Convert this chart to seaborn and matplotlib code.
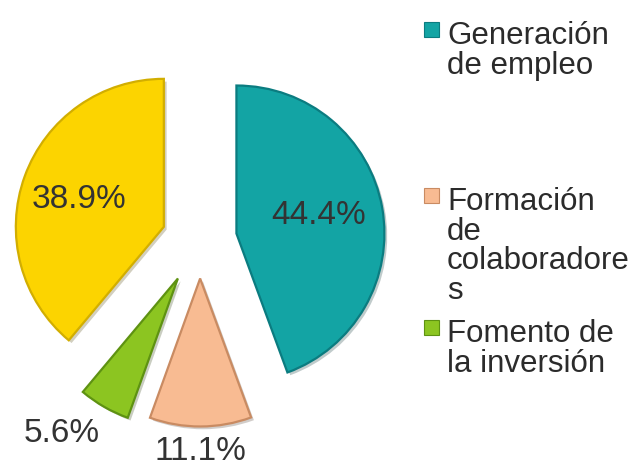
import matplotlib
matplotlib.use("Agg")
import matplotlib.pyplot as plt
import matplotlib.patheffects as pe
from matplotlib.patches import Rectangle
import seaborn as sns
import numpy as np

# data
categories = ["Generación de empleo", "Formación de colaboradores",
              "Fomento de la inversión", "Otros"]
legend_labels = ["Generación\nde empleo", "Formación\nde\ncolaboradore\ns",
                 "Fomento de\nla inversión"]
shares = [44.4, 11.1, 5.6, 38.9]

colors = ["#13a4a4", "#f8bb92", "#8cc521", "#fcd400"]
edges = ["#0b7c80", "#c98b62", "#5e9212", "#d2ae00"]
explode = [0.25, 0.26, 0.30, 0.26]
label_dist = [0.57, 1.17, 1.31, 0.60]
label_turn = [2, 0, -7, 2]

sns.set_theme(style="white")
plt.rcParams["font.family"] = ["Liberation Sans", "DejaVu Sans"]

fig = plt.figure(figsize=(6.43, 4.71), dpi=100)
ax = fig.add_axes([0, 0, 400 / 643, 1])

wedges, texts, autotexts = ax.pie(
    shares, colors=colors, explode=explode, startangle=90, counterclock=False,
    autopct="%.1f%%", pctdistance=0.6, radius=1,
    wedgeprops=dict(linewidth=1.6),
    textprops=dict(fontsize=24, color="#333333"),
)

for w, ec, t, d, turn in zip(wedges, edges, autotexts, label_dist, label_turn):
    w.set_edgecolor(ec)
    w.set_path_effects([pe.SimplePatchShadow(offset=(2, -2), alpha=0.25), pe.Normal()])
    th = np.deg2rad((w.theta1 + w.theta2) / 2 + turn)
    cx, cy = w.center
    t.set_position((cx + d * w.r * np.cos(th), cy + d * w.r * np.sin(th)))
    t.set_ha("center")
    t.set_va("center")

ax.set_aspect("auto")
ax.set_xlim(-200 / 148, 200 / 148)
ax.set_ylim(-231 / 148, 240 / 148)
ax.axis("off")

# legend drawn by hand to keep the uneven gaps of the original
W, H = 643, 471
tops = [22, 188, 320]
for lab, col, ec, top in zip(legend_labels, colors[:3], edges[:3], tops):
    fig.patches.append(Rectangle((424 / W, 1 - (top + 15) / H), 15 / W, 15 / H,
                                 transform=fig.transFigure, facecolor=col,
                                 edgecolor=ec, linewidth=0.8))
    fig.text(447 / W, 1 - (top - 1) / H, lab, ha="left", va="top",
             fontsize=22.5, color="#2b2b2b", linespacing=0.98)

fig.savefig("out.png", dpi=100)
